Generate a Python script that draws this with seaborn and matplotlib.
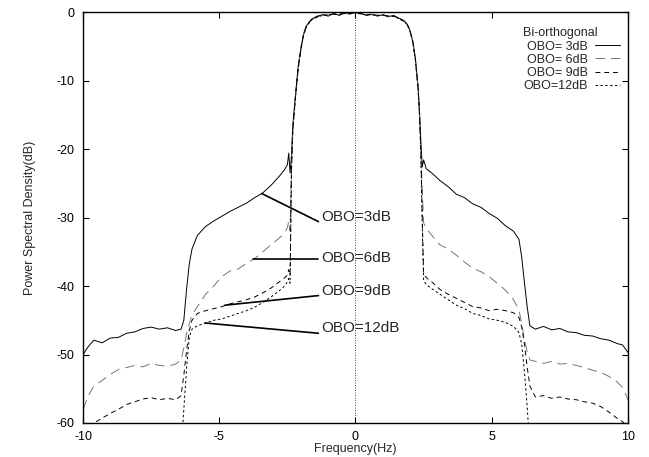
import matplotlib
matplotlib.use("Agg")
import matplotlib.pyplot as plt
import seaborn as sns
import pandas as pd

# Frequency grid (Hz) shared by all curves
FREQ = [-10.0, -9.8, -9.6, -9.3, -9.0, -8.7, -8.4, -8.1, -7.8, -7.5, -7.2, -6.9, -6.6,
        -6.4, -6.3, -6.2, -6.1, -6.0, -5.8, -5.5, -5.2, -4.9, -4.6, -4.3, -4.0, -3.7,
        -3.4, -3.1, -2.8, -2.6, -2.5, -2.45, -2.4, -2.35, -2.3, -2.2, -2.1, -2.0, -1.9,
        -1.8, -1.6, -1.4, -1.2, -1.0, -0.8, -0.6, -0.4, -0.2, 0.0,
        0.2, 0.4, 0.6, 0.8, 1.0, 1.2, 1.4, 1.6, 1.8, 1.9, 2.0, 2.1, 2.2, 2.3, 2.35,
        2.4, 2.45, 2.5, 2.6, 2.8, 3.1, 3.4, 3.7, 4.0, 4.3, 4.6, 4.9, 5.2, 5.5, 5.8,
        6.0, 6.1, 6.2, 6.3, 6.4, 6.6, 6.9, 7.2, 7.5, 7.8, 8.1, 8.4, 8.7, 9.0, 9.3,
        9.6, 9.8, 10.0]

# Power spectral density (dB) for each output back-off
PSD_OBO3 = [-50.0, -48.8, -47.9, -48.3, -47.6, -47.5, -46.9, -46.7, -46.2, -46.0, -46.3, -46.1, -46.5,
            -46.3, -45.0, -40.5, -36.8, -34.6, -32.6, -31.3, -30.5, -29.8, -29.1, -28.5, -27.9, -27.1,
            -26.4, -25.3, -24.0, -23.0, -22.3, -20.6, -23.5, -21.0, -16.5, -12.0, -7.8, -5.2, -3.1,
            -2.0, -1.0, -0.6, -0.4, -0.6, -0.2, -0.5, -0.1, -0.3, 0.0,
            -0.2, -0.5, -0.3, -0.6, -0.4, -0.7, -0.5, -0.9, -1.3, -1.8, -2.7, -4.2, -6.8, -11.0, -14.5,
            -19.0, -22.6, -21.6, -22.9, -23.5, -24.6, -25.5, -26.6, -27.1, -28.0, -28.5, -29.4, -30.1, -31.2, -32.0,
            -33.2, -35.8, -39.5, -43.0, -45.8, -46.3, -45.9, -46.4, -46.2, -46.7, -46.8, -47.2, -47.3, -47.7, -47.9,
            -48.4, -48.6, -49.7]

PSD_OBO6 = [-58.0, -56.0, -54.6, -53.8, -52.9, -52.2, -51.9, -51.6, -51.8, -51.3, -51.6, -51.7, -51.4,
            -50.8, -49.0, -47.0, -45.5, -44.2, -43.0, -41.2, -40.0, -38.6, -37.8, -37.5, -36.7, -36.0,
            -35.0, -34.0, -33.0, -32.3, -31.5, -30.5, -32.0, -22.5, -17.0, -12.3, -8.0, -5.4, -3.3,
            -2.1, -1.1, -0.7, -0.5, -0.4, -0.3, -0.4, -0.2, -0.3, -0.1,
            -0.3, -0.4, -0.4, -0.5, -0.5, -0.6, -0.6, -1.0, -1.4, -1.9, -2.8, -4.3, -7.0, -11.3, -15.0,
            -20.0, -26.0, -30.8, -31.6, -32.6, -34.0, -34.6, -35.5, -36.5, -37.4, -37.9, -38.6, -39.6, -40.6, -42.0,
            -43.5, -45.5, -47.8, -49.6, -50.8, -51.0, -51.3, -51.0, -51.4, -51.3, -51.6, -51.9, -52.3, -52.6, -53.2,
            -54.0, -54.8, -56.6]

PSD_OBO9 = [-61.5, -60.8, -60.0, -59.3, -58.6, -58.0, -57.3, -56.9, -56.5, -56.3, -56.6, -56.4, -56.6,
            -56.0, -53.0, -49.5, -46.5, -45.0, -44.0, -43.6, -43.3, -43.0, -42.6, -42.3, -42.0, -41.6,
            -41.0, -40.3, -39.4, -38.8, -38.4, -37.6, -38.5, -23.0, -17.2, -12.2, -8.1, -5.3, -3.2,
            -2.0, -1.0, -0.7, -0.4, -0.5, -0.3, -0.3, -0.2, -0.2, -0.1,
            -0.2, -0.4, -0.3, -0.5, -0.4, -0.6, -0.6, -0.9, -1.4, -1.8, -2.7, -4.3, -7.0, -11.2, -15.0,
            -20.5, -30.0, -38.2, -38.8, -39.4, -40.5, -41.2, -41.8, -42.4, -43.0, -43.2, -43.6, -43.4, -43.6, -43.9,
            -44.6, -46.0, -48.5, -51.8, -54.6, -56.2, -56.0, -56.4, -56.2, -56.5, -56.6, -56.9, -57.1, -57.6, -58.4,
            -59.3, -59.8, -60.8]

PSD_OBO12 = [-64.0, -64.0, -64.0, -64.0, -64.0, -64.0, -64.0, -64.0, -64.0, -64.0, -64.0, -64.0, -64.0,
             -64.0, -58.0, -52.0, -47.5, -46.3, -45.8, -45.4, -45.0, -44.8, -44.4, -44.0, -43.6, -43.1,
             -42.4, -41.6, -40.7, -40.0, -39.4, -38.9, -39.6, -23.2, -17.4, -12.4, -8.2, -5.4, -3.3,
             -2.1, -1.1, -0.7, -0.5, -0.4, -0.3, -0.4, -0.2, -0.2, -0.1,
             -0.3, -0.4, -0.4, -0.5, -0.5, -0.6, -0.6, -1.0, -1.4, -1.9, -2.8, -4.3, -7.1, -11.4, -15.2,
             -21.0, -31.0, -39.2, -39.8, -40.4, -41.2, -42.0, -42.8, -43.3, -44.0, -44.3, -44.8, -45.0, -45.3, -45.9,
             -46.8, -48.5, -52.5, -57.5, -64.0, -64.0, -64.0, -64.0, -64.0, -64.0, -64.0, -64.0, -64.0, -64.0, -64.0,
             -64.0, -64.0, -64.0]

LEGEND_LABELS = ["OBO= 3dB", "OBO= 6dB", "OBO= 9dB", "OBO=12dB"]
LEGEND_TITLE = "Bi-orthogonal"

# Callout labels: text, where the text sits, where the pointer starts and where it touches the curve
CALLOUT_TEXT = ["OBO=3dB", "OBO=6dB", "OBO=9dB", "OBO=12dB"]
CALLOUT_LABEL_XY = [(-1.24, -29.9), (-1.24, -35.9), (-1.24, -40.8), (-1.24, -46.2)]
CALLOUT_START_XY = [(-1.36, -30.6), (-1.36, -36.1), (-1.36, -41.4), (-1.36, -46.9)]
CALLOUT_POINT_XY = [(-3.44, -26.5), (-3.75, -36.1), (-4.79, -42.8), (-5.52, -45.4)]

sns.set_theme(style="ticks")
plt.rcParams["font.family"] = ["Liberation Sans", "DejaVu Sans"]
plt.rcParams["axes.unicode_minus"] = False

fig = plt.figure(figsize=(6.49, 4.57), dpi=100)
ax = fig.add_axes([0.1279, 0.0744, 0.8397, 0.8993])

df = pd.DataFrame({"freq": FREQ, "obo3": PSD_OBO3, "obo6": PSD_OBO6,
                   "obo9": PSD_OBO9, "obo12": PSD_OBO12})

styles = [
    ("obo3", "black", "-"),
    ("obo6", "#777777", (0, (10, 6))),
    ("obo9", "black", (0, (5, 4))),
    ("obo12", "black", (0, (2.5, 2.5))),
]
for (col, color, ls), lab in zip(styles, LEGEND_LABELS):
    sns.lineplot(data=df, x="freq", y=col, ax=ax, color=color, linestyle=ls,
                 linewidth=0.7, label=lab, sort=False, estimator=None)

# dotted centre-frequency marker
ax.axvline(0, color="black", linestyle=(0, (1, 2)), linewidth=0.6)

for txt, (lx, ly), (sx, sy), (px, py) in zip(CALLOUT_TEXT, CALLOUT_LABEL_XY,
                                             CALLOUT_START_XY, CALLOUT_POINT_XY):
    ax.plot([px, sx], [py, sy], color="black", linewidth=1.2)
    ax.text(lx, ly, txt, fontsize=11, ha="left", va="center")

ax.set_xlim(-10, 10)
ax.set_ylim(-60, 0)
ax.set_xticks([-10, -5, 0, 5, 10])
ax.set_yticks([0, -10, -20, -30, -40, -50, -60])
ax.tick_params(direction="in", length=4.5, width=0.8, top=True, right=True,
               labelsize=9, pad=6, colors="black")
for s in ax.spines.values():
    s.set_color("black")
    s.set_linewidth(1.0)
ax.set_xlabel("Frequency(Hz)", fontsize=9, labelpad=0)
ax.set_ylabel("Power Spectral Density(dB)", fontsize=9, labelpad=15)

leg = ax.legend(title=LEGEND_TITLE, loc="upper right", bbox_to_anchor=(0.995, 0.975),
                frameon=False, markerfirst=False, fontsize=9, title_fontsize=9,
                handlelength=2.0, handletextpad=0.6, labelspacing=0.1,
                borderaxespad=0, alignment="left")

fig.savefig("out.png", dpi=100)
